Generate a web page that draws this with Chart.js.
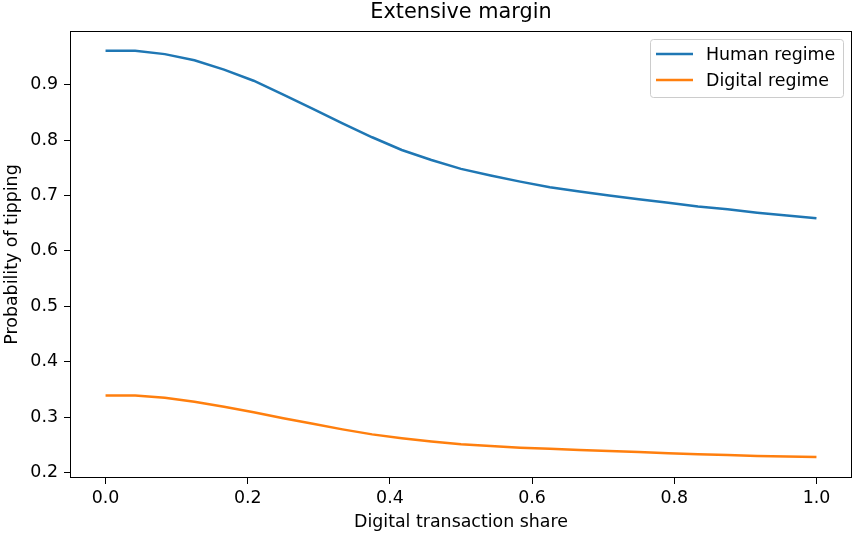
<!DOCTYPE html>
<html>
<head>
<meta charset="utf-8">
<script src="https://cdn.jsdelivr.net/npm/chart.js@4"></script>
<style>
  html, body { margin: 0; padding: 0; background: #fff; }
  #wrap { width: 854px; height: 533px; position: relative; }
</style>
</head>
<body>
<div id="wrap"><canvas id="chart"></canvas></div>
<script>
// --- Data ---
var digitalShare = [
  0 / 24, 1 / 24, 2 / 24, 3 / 24, 4 / 24, 5 / 24, 6 / 24, 7 / 24, 8 / 24,
  9 / 24, 10 / 24, 11 / 24, 12 / 24, 13 / 24, 14 / 24, 15 / 24, 16 / 24,
  17 / 24, 18 / 24, 19 / 24, 20 / 24, 21 / 24, 22 / 24, 23 / 24, 24 / 24
];
var humanRegime = [
  0.961, 0.961, 0.955, 0.944, 0.927, 0.907, 0.882, 0.856, 0.830, 0.805,
  0.782, 0.764, 0.748, 0.736, 0.725, 0.715, 0.707, 0.700, 0.693, 0.687,
  0.680, 0.675, 0.669, 0.664, 0.659
];
var digitalRegime = [
  0.339, 0.339, 0.335, 0.328, 0.319, 0.309, 0.298, 0.288, 0.278, 0.269,
  0.262, 0.256, 0.251, 0.248, 0.245, 0.243, 0.241, 0.239, 0.237, 0.235,
  0.233, 0.232, 0.230, 0.229, 0.228
];
var xTicks = [0, 0.2, 0.4, 0.6, 0.8, 1.0];
var yTicks = [0.2, 0.3, 0.4, 0.5, 0.6, 0.7, 0.8, 0.9];
var chartTitle = "Extensive margin";

var FONT = "'DejaVu Sans', sans-serif";
var LABEL_SIZE = 17.4;

function toPoints(xs, ys) {
  return xs.map(function (x, i) { return { x: x, y: ys[i] }; });
}

// --- frame, title over the axes and legend box, matplotlib style ---
var framePlugin = {
  id: "frame",
  afterDraw: function (chart) {
    var a = chart.chartArea;
    var ctx = chart.ctx;
    ctx.save();
    ctx.strokeStyle = "#000";
    ctx.lineWidth = 1;
    ctx.strokeRect(Math.round(a.left) + 0.5, Math.round(a.top) + 0.5,
      Math.round(a.right - a.left) - 1, Math.round(a.bottom - a.top) - 1);

    // title centred on the axes, not the canvas
    ctx.fillStyle = "#000";
    ctx.font = "20.8px " + FONT;
    ctx.textAlign = "center";
    ctx.textBaseline = "middle";
    ctx.fillText(chartTitle, (a.left + a.right) / 2, 12.5);

    // legend
    var bx = 650, by = 39, bw = 193, bh = 58;
    ctx.beginPath();
    ctx.roundRect(bx + 0.5, by + 0.5, bw, bh, 3);
    ctx.fillStyle = "rgba(255,255,255,0.8)";
    ctx.fill();
    ctx.strokeStyle = "#cccccc";
    ctx.lineWidth = 1;
    ctx.stroke();
    ctx.font = LABEL_SIZE + "px " + FONT;
    ctx.textAlign = "left";
    ctx.textBaseline = "middle";
    chart.data.datasets.forEach(function (ds, i) {
      var ly = 54 + i * 26;
      ctx.beginPath();
      ctx.moveTo(656, ly);
      ctx.lineTo(693, ly);
      ctx.strokeStyle = ds.borderColor;
      ctx.lineWidth = 2.5;
      ctx.stroke();
      ctx.fillStyle = "#000";
      ctx.fillText(ds.label, 706, ly + 1);
    });
    ctx.restore();
  }
};

new Chart(document.getElementById("chart"), {
  type: "line",
  data: {
    datasets: [
      {
        label: "Human regime",
        data: toPoints(digitalShare, humanRegime),
        borderColor: "#1f77b4",
        borderWidth: 2.5,
        pointRadius: 0,
        tension: 0
      },
      {
        label: "Digital regime",
        data: toPoints(digitalShare, digitalRegime),
        borderColor: "#ff7f0e",
        borderWidth: 2.5,
        pointRadius: 0,
        tension: 0
      }
    ]
  },
  options: {
    responsive: true,
    maintainAspectRatio: false,
    animation: false,
    layout: { padding: { top: 31, right: 2, bottom: 0, left: 0 } },
    plugins: {
      legend: { display: false },
      tooltip: { enabled: false },
      title: { display: false }
    },
    scales: {
      x: {
        type: "linear",
        min: -0.05,
        max: 1.05,
        afterBuildTicks: function (s) {
          s.ticks = xTicks.map(function (v) { return { value: v }; });
        },
        afterFit: function (s) { s.height = 55; },
        grid: { drawOnChartArea: false, drawTicks: true, tickLength: 6, color: "#000" },
        border: { display: false },
        ticks: {
          color: "#000",
          padding: 4,
          maxRotation: 0,
          font: { family: FONT, size: LABEL_SIZE },
          callback: function (v) { return v.toFixed(1); }
        },
        title: {
          display: true,
          text: "Digital transaction share",
          color: "#000",
          font: { family: FONT, size: LABEL_SIZE },
          padding: { top: 0, bottom: 0 }
        }
      },
      y: {
        type: "linear",
        min: 0.1903,
        max: 0.9967,
        afterBuildTicks: function (s) {
          s.ticks = yTicks.map(function (v) { return { value: v }; });
        },
        afterFit: function (s) { s.width = 70; },
        grid: { drawOnChartArea: false, drawTicks: true, tickLength: 6, color: "#000" },
        border: { display: false },
        ticks: {
          color: "#000",
          padding: 6,
          font: { family: FONT, size: LABEL_SIZE },
          callback: function (v) { return v.toFixed(1); }
        },
        title: {
          display: true,
          text: "Probability of tipping",
          color: "#000",
          font: { family: FONT, size: LABEL_SIZE },
          padding: { top: 2, bottom: 0 }
        }
      }
    }
  },
  plugins: [framePlugin]
});
</script>
</body>
</html>
